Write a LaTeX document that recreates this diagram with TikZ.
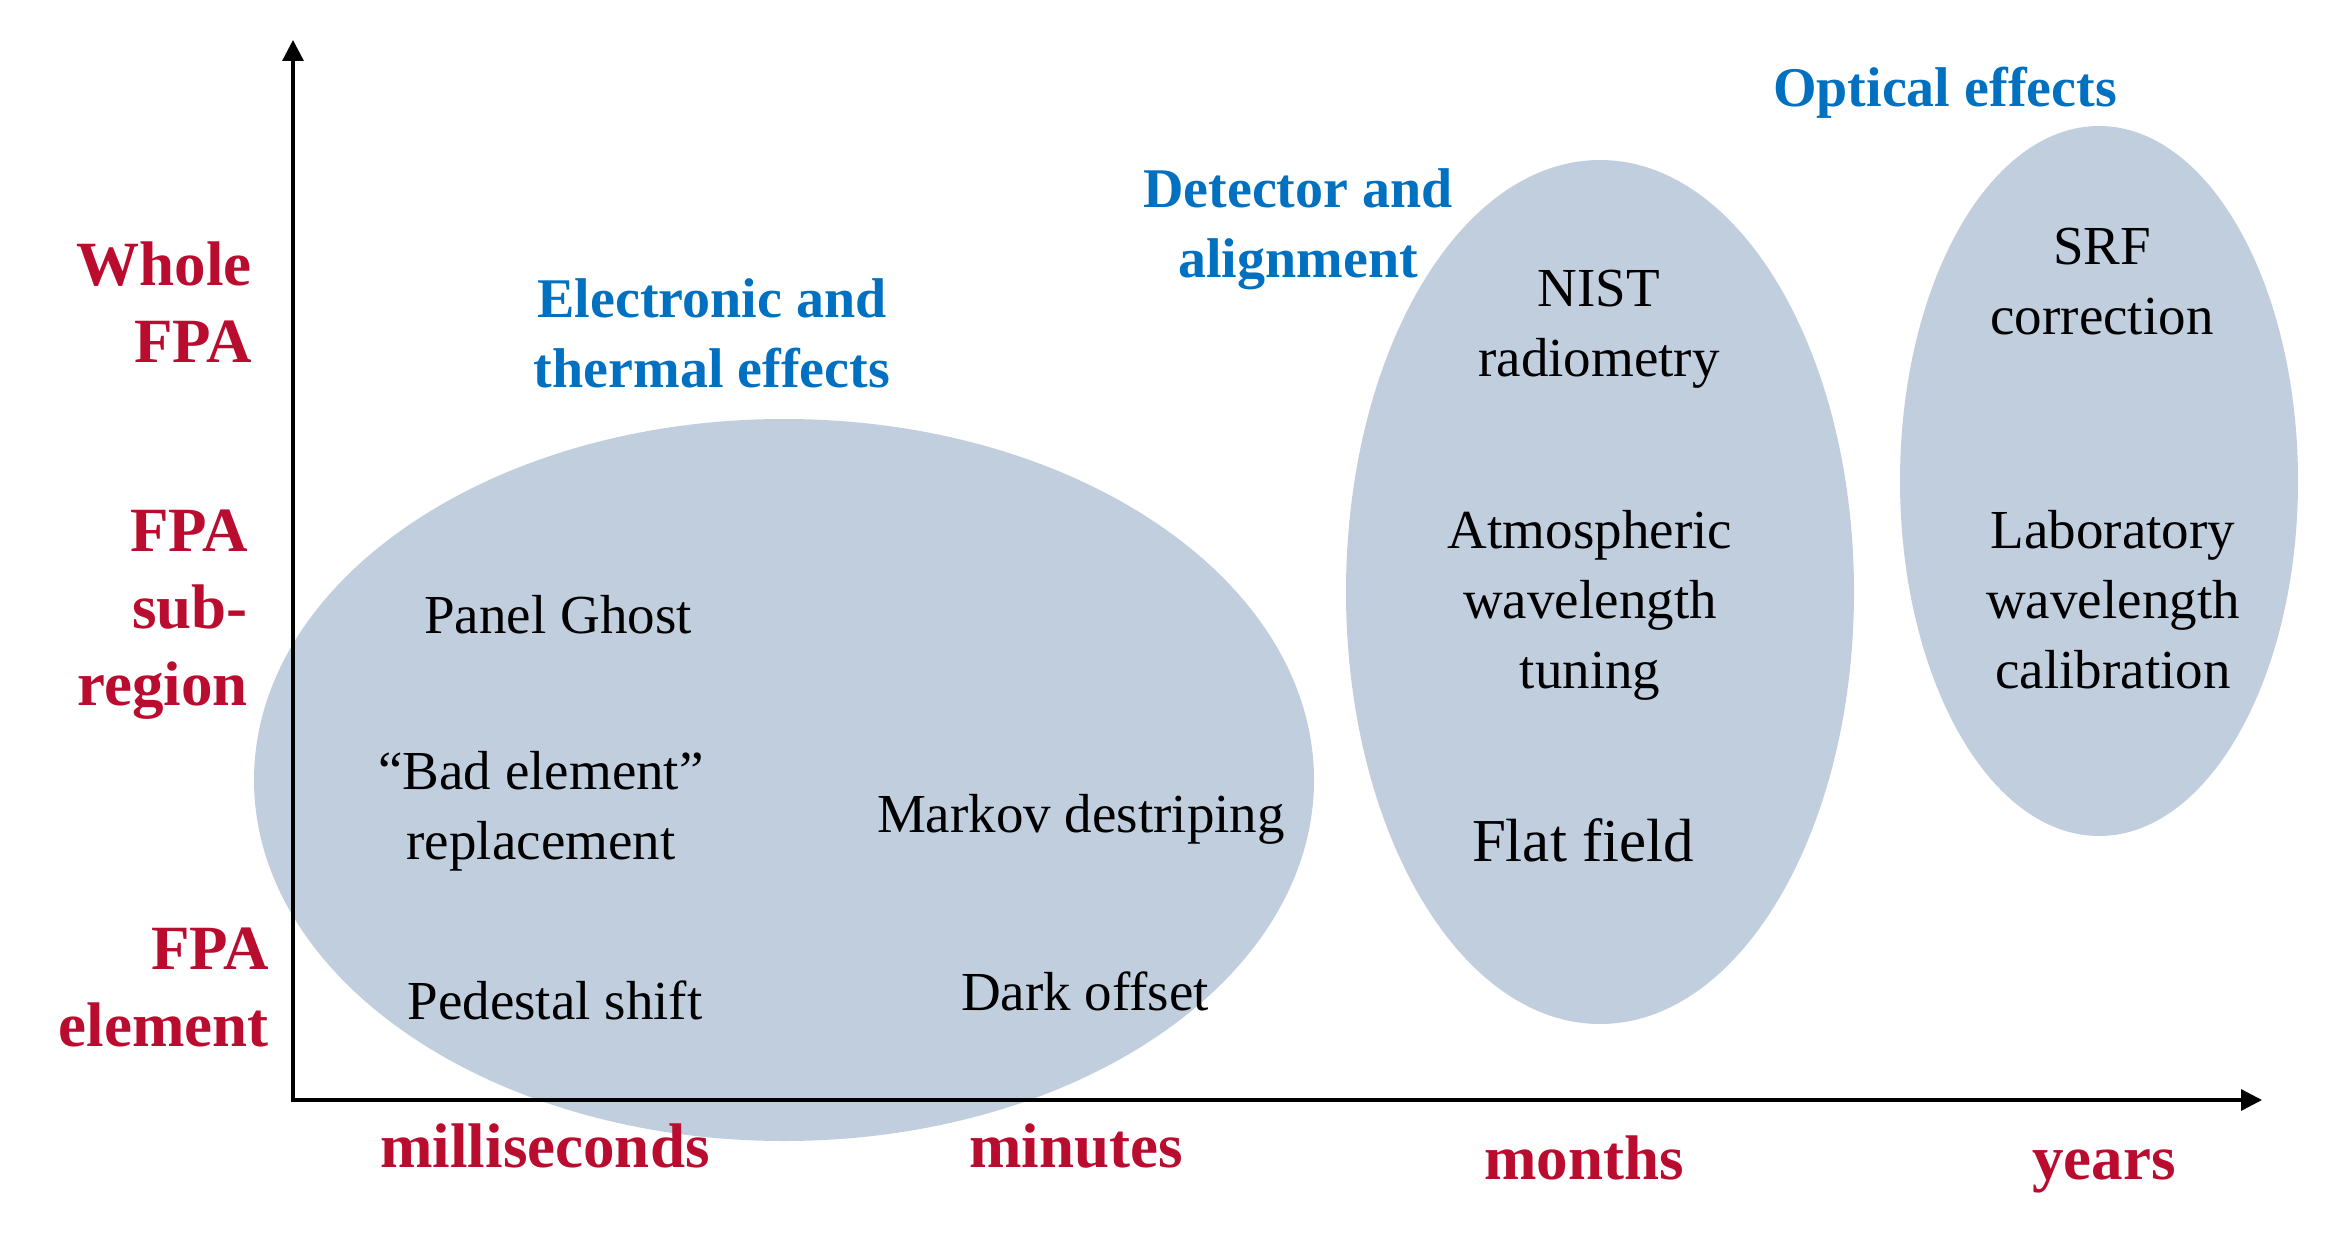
\documentclass[tikz,border=0pt]{standalone}
\usepackage{fontspec}
\setmainfont{Liberation Serif}
\usetikzlibrary{arrows.meta}
\definecolor{axred}{RGB}{186,12,47}
\definecolor{grpblue}{RGB}{0,112,192}
\definecolor{ellfill}{RGB}{192,206,222}
\begin{document}
\begin{tikzpicture}[x=1pt,y=-1pt,
  blob/.style={fill=ellfill,draw=none},
  axislab/.style={text=axred,inner sep=0pt,font=\fontsize{63}{77}\selectfont\bfseries},
  onelab/.style={text height=0.7em,text depth=0pt},
  grouplab/.style={text=grpblue,inner sep=0pt,font=\fontsize{56}{70}\selectfont\bfseries,align=center},
  item/.style={inner sep=0pt,font=\fontsize{55}{70}\selectfont,align=center},
  axisline/.style={line width=3.3pt,-{Triangle[width=21pt,length=21pt]}}
]
\path[use as bounding box] (0,0) rectangle (2328,1244);

% ellipses
\fill[blob] (784,780) ellipse [x radius=530pt, y radius=361pt];
\fill[blob] (1600,592) ellipse [x radius=254pt, y radius=432pt];
\fill[blob] (2099,481) ellipse [x radius=199pt, y radius=355pt];

% axes
\coordinate (O) at (293,1100);
\coordinate (Ox) at (291.35,1100);
\coordinate (ytip) at (293,40);
\coordinate (xtip) at (2262,1100);
\draw[axisline] (O) -- (ytip);
\draw[axisline] (Ox) -- (xtip);

% y labels
\node[axislab,align=right,anchor=east] (whole) at (252,302) {Whole\\FPA};
\node[axislab,align=right,anchor=east] (sub) at (248,615) {FPA\\sub-\\region};
\node[axislab,align=right,anchor=east] (elem) at (269,988) {FPA\\element};

% x labels
\node[axislab,onelab] (ms) at (545,1164) {milliseconds};
\node[axislab,onelab] (min) at (1076,1164) {minutes};
\node[axislab,onelab] (mon) at (1584,1176) {months};
\node[axislab,onelab] (yrs) at (2104,1176) {years};

% group labels
\node[grouplab] (elec) at (712,333) {Electronic and\\thermal effects};
\node[grouplab] (det) at (1298,229) {Detector and\\alignment};
\node[grouplab,onelab] (opt) at (1945,103) {Optical effects};

% items
\node[item,onelab] (ghost) at (558,630) {Panel Ghost};
\node[item] (bad) at (541,811) {“Bad element”\\replacement};
\node[item,onelab] (ped) at (555,1016) {Pedestal shift};
\node[item,onelab] (markov) at (1081,829) {Markov destriping};
\node[item,onelab] (dark) at (1085,1007) {Dark offset};
\node[item] (nist) at (1599,329) {NIST\\radiometry};
\node[item] (atm) at (1590,605) {Atmospheric\\wavelength\\tuning};
\node[item,onelab,font=\fontsize{61}{72}\selectfont] (flat) at (1583,858) {Flat field};
\node[item] (srf) at (2102,282) {SRF\\correction};
\node[item] (lab) at (2113,600) {Laboratory\\wavelength\\calibration};
\end{tikzpicture}
\end{document}
